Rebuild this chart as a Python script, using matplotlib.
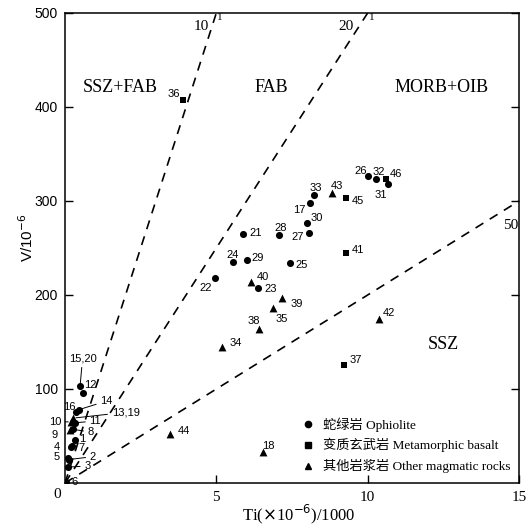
import matplotlib
matplotlib.use("Agg")
import matplotlib.pyplot as plt
from matplotlib.lines import Line2D
import numpy as np

# ---------------- data ----------------
# Ophiolite (circles)
oph_labels = ["15,20", "12", "16", "14", "11", "8", "1", "4", "7", "5", "2", "3", "6",
              "26", "32", "31", "33", "17", "30", "27", "28", "21", "24", "29", "25", "22", "23"]
oph_ti = [0.50, 0.58, 0.36, 0.46, 0.33, 0.28, 0.33, 0.19, 0.23, 0.11, 0.13, 0.11, 0.03,
          10.02, 10.26, 10.66, 8.24, 8.10, 8.00, 8.07, 7.06, 5.87, 5.55, 6.00, 7.43, 4.94, 6.39]
oph_v = [103.5, 96, 76, 78, 64, 57, 46, 38, 39, 27, 25, 17, 1.5,
         327, 323, 318, 306, 298, 277, 266, 264, 265, 235, 237, 234, 218, 207]

# Metamorphic basalt (squares)
met_labels = ["36", "46", "45", "41", "37"]
met_ti = [3.90, 10.60, 9.27, 9.27, 9.22]
met_v = [407, 323, 303, 245, 126]

# Other magmatic rocks (triangles)
oth_labels = ["13,19", "10", "9", "43", "40", "39", "35", "38", "42", "34", "44", "18"]
oth_ti = [0.27, 0.20, 0.17, 8.83, 6.13, 7.18, 6.86, 6.42, 10.36, 5.20, 3.47, 6.53]
oth_v = [69, 65, 56, 309, 214, 197, 186, 164, 174, 145, 52, 33]

# Ti/V discrimination ratios
ratios = [10, 20, 50]

legend_names = ["蛇绿岩 Ophiolite", "变质玄武岩 Metamorphic basalt", "其他岩浆岩 Other magmatic rocks"]

# ---------------- layout helpers ----------------
# label offsets in pixels (dx right, dy up) for scattered points
px_off = {
    "26": (-8, 5), "32": (3, 7), "46": (10, 5), "31": (-7, -11), "43": (5, 7),
    "45": (12, -3), "33": (1, 7), "17": (-11, -7), "30": (10, 5), "27": (-12, -4),
    "28": (2, 7), "21": (13, 1), "41": (12, 3), "24": (0, 7), "29": (11, 2),
    "25": (12, -2), "22": (-9, -10), "40": (12, 5), "23": (12, -1), "39": (14, -6),
    "35": (9, -11), "38": (-5, 8), "42": (10, 6), "34": (13, 4), "37": (12, 5),
    "44": (14, 3), "18": (6, 6), "36": (-9, 6),
}
# cluster labels near origin: text position in data coords, and optional leader
cluster_txt = {
    "15,20": ((0.58, 132.7), True), "12": ((0.85, 104.5), False),
    "14": ((1.37, 87.2), True), "16": ((0.16, 81.2), False),
    "13,19": ((2.0, 75.2), True), "10": ((-0.33, 65.2), True),
    "11": ((1.0, 66.0), True), "9": ((-0.36, 51), False),
    "8": ((0.85, 54.2), True), "1": ((0.58, 46.5), False),
    "4": ((-0.28, 38), False), "7": ((0.55, 37), False),
    "5": ((-0.26, 27.3), False), "2": ((0.92, 28), True),
    "3": ((0.74, 18), True), "6": ((0.30, 1.4), False),
}

W, H = 529, 525
X0, X1, Y0, Y1 = 65, 519, 483, 13
fig = plt.figure(figsize=(W / 100, H / 100), dpi=100)
ax = fig.add_axes([X0 / W, (H - Y0) / H, (X1 - X0) / W, (Y0 - Y1) / H])
ax.set_xlim(0, 15)
ax.set_ylim(0, 500)

for s in ax.spines.values():
    s.set_linewidth(1.1)

# dashed discrimination lines (V = Ti*1000 / ratio)
for r in ratios:
    xmax = min(15, 500 * r / 1000)
    xs = np.array([0, xmax])
    ax.plot(xs, xs * 1000 / r, color="black", lw=1.2, dashes=(5.5, 4.5), zorder=2)

lab_font = dict(family="Liberation Sans", fontsize=8)
ax.scatter(oph_ti, oph_v, marker="o", s=26, color="black", zorder=3, linewidths=0)
ax.scatter(met_ti, met_v, marker="s", s=20, color="black", zorder=3, linewidths=0)
ax.scatter(oth_ti, oth_v, marker="^", s=32, color="black", zorder=3, linewidths=0)

pt_per_px = 0.72
for labs, xs, ys in [(oph_labels, oph_ti, oph_v), (met_labels, met_ti, met_v),
                     (oth_labels, oth_ti, oth_v)]:
    for lab, x, y in zip(labs, xs, ys):
        if lab in cluster_txt:
            (tx, ty), lead = cluster_txt[lab]
            ap = dict(arrowstyle="-", lw=0.7, color="black", shrinkA=1, shrinkB=2) if lead else None
            ax.annotate(lab, xy=(x, y), xytext=(tx, ty), textcoords="data",
                        ha="center", va="center", arrowprops=ap, annotation_clip=False,
                        **lab_font)
        else:
            dx, dy = px_off[lab]
            ax.annotate(lab, xy=(x, y), xytext=(dx * pt_per_px, dy * pt_per_px),
                        textcoords="offset points", ha="center", va="center", **lab_font)

serif = "Liberation Serif"
# region names
ax.text(1.84, 421, "SSZ+FAB", family=serif, fontsize=13, ha="center", va="center")
ax.text(6.83, 421, "FAB", family=serif, fontsize=13, ha="center", va="center")
ax.text(12.45, 421, "MORB+OIB", family=serif, fontsize=13, ha="center", va="center")
ax.text(12.5, 147, "SSZ", family=serif, fontsize=13, ha="center", va="center")

# ratio labels
ax.text(4.5, 486, "10", family=serif, fontsize=11, ha="center", va="center")
ax.text(5.12, 495, "1", family=serif, fontsize=8, ha="center", va="center")
ax.text(9.3, 486, "20", family=serif, fontsize=11, ha="center", va="center")
ax.text(10.12, 495, "1", family=serif, fontsize=8, ha="center", va="center")
ax.text(14.72, 274, "50", family=serif, fontsize=11, ha="center", va="center")

# ticks
ax.set_xticks([5, 10, 15])
ax.set_xticklabels(["5", "10", "15"], family=serif, fontsize=11)
ax.set_yticks([100, 200, 300, 400, 500])
ax.set_yticklabels(["100", "200", "300", "400", "500"], family="Liberation Sans", fontsize=10)
ax.tick_params(axis="both", direction="in", length=6, width=1.0)
ax.tick_params(axis="x", pad=6)
ax.tick_params(axis="y", pad=5, right=True)
ax.text(-0.25, -12, "0", family=serif, fontsize=11, ha="center", va="center",
        clip_on=False)

fig.text(299 / W, 1 - 514 / H, r"Ti($\times$10$^{-6}$)/1000", family=serif, fontsize=12,
         ha="center", va="center")
fig.text(27 / W, 1 - 238 / H, r"V/10$^{-6}$", family="Liberation Sans", fontsize=11,
         rotation=90, ha="center", va="center")

# legend
handles = [Line2D([], [], ls="none", marker="o", color="black", ms=4.5),
           Line2D([], [], ls="none", marker="s", color="black", ms=4),
           Line2D([], [], ls="none", marker="^", color="black", ms=5)]
leg = ax.legend(handles, legend_names, loc="upper left",
                bbox_to_anchor=((303 - X0) / (X1 - X0), (Y0 - 417) / (Y0 - Y1)),
                frameon=False, handlelength=0.8, handletextpad=0.7, labelspacing=0.5,
                borderaxespad=0, borderpad=0,
                prop=dict(family=[serif, "Noto Sans CJK SC"], size=9.5))

fig.savefig("out.png", dpi=100)
